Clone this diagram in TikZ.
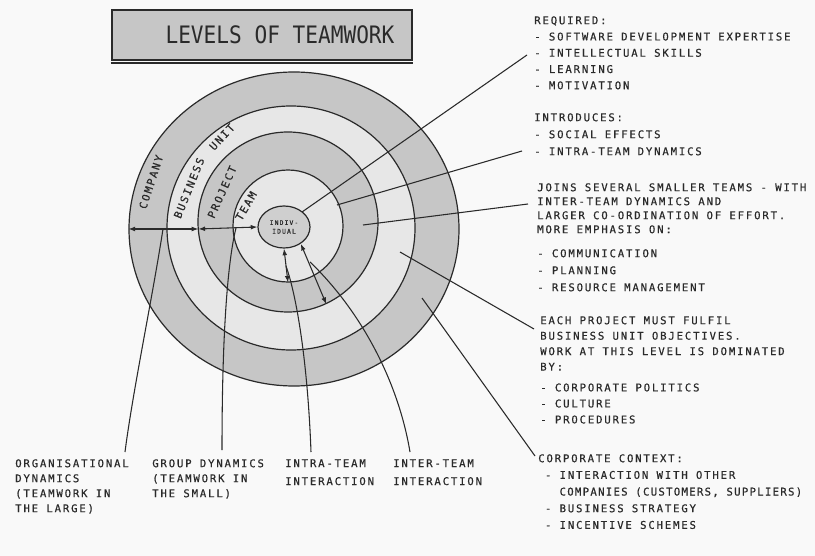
\documentclass[tikz,border=0pt]{standalone}
\usepackage{fontspec}
\usepackage{graphicx}
\usetikzlibrary{arrows.meta,shapes.geometric}
\newfontfamily\hand[LetterSpace=17,FakeBold=0.5]{DejaVu Sans Mono}
\newfontfamily\handtight[LetterSpace=12,FakeBold=0.5]{DejaVu Sans Mono}
\newfontfamily\titlehand{DejaVu Sans Mono}
\definecolor{ink}{HTML}{2A2A2A}
\definecolor{bandgray}{HTML}{C6C6C6}
\definecolor{bandlight}{HTML}{E7E7E7}
\definecolor{coregray}{HTML}{CFCFCF}
\definecolor{paper}{HTML}{F9F9F9}
\begin{document}
\begin{tikzpicture}[x=0.75pt,y=-0.75pt,
  ring/.style={ellipse,draw=ink,line width=0.9pt,inner sep=0pt},
  txt/.style={font=\hand\fontsize{8}{12.2}\selectfont,text=ink,align=left,anchor=north west,inner sep=0pt},
  lbl/.style={font=\hand\fontsize{8}{10}\selectfont,text=ink,inner sep=0pt},
  leader/.style={draw=ink,line width=0.8pt},
  dim/.style={draw=ink,line width=0.8pt,{Latex[length=5pt,width=3.6pt]}-{Latex[length=5pt,width=3.6pt]}}]
\fill[paper] (0,0) rectangle (815,556);
\useasboundingbox (0,0) rectangle (815,556);

% title
\node[draw=ink,line width=1.6pt,fill=bandgray,minimum width=225pt,minimum height=37.5pt,inner sep=0pt,
      font=\titlehand\fontsize{18}{18}\selectfont,text=ink] (title) at (262,35)
      {\hspace*{27pt}\scalebox{0.88}[1]{LEVELS OF TEAMWORK}};
\draw[ink,line width=1.2pt] ([yshift=-1.5pt]title.south west) -- ([yshift=-1.5pt]title.south east);

% rings
\node[ring,fill=bandgray,minimum width=247.5pt,minimum height=235.5pt] (company) at (294,229) {};
\node[ring,fill=bandlight,minimum width=186pt,minimum height=183pt] (bunit) at (291,228) {};
\node[ring,fill=bandgray,minimum width=135pt,minimum height=135pt] (project) at (288,222) {};
\node[ring,fill=bandlight,minimum width=82.5pt,minimum height=84pt] (team) at (288,226) {};
\node[ring,fill=coregray,minimum width=39pt,minimum height=31.5pt,align=center,
      font=\hand\fontsize{4.8}{6.5}\selectfont,text=ink] (indiv) at (284,227) {INDIV-\\IDUAL};

% ring labels
\node[lbl,rotate=72] (lcomp) at (151,182) {COMPANY};
\node[lbl,rotate=68] (lbus) at (189,188) {BUSINESS};
\node[lbl,rotate=47] (lunit) at (222,137) {UNIT};
\node[lbl,rotate=66] (lproj) at (222,192) {PROJECT};
\node[lbl,rotate=60] (lteam) at (246,206) {TEAM};

% dimension arrows
\coordinate (pW) at (198.4,229);
\draw[dim] (company.west) -- (pW);
\draw[dim] (pW) -- (indiv.west);
\draw[dim] (indiv.south) -- (team.south);
\draw[dim] (indiv.-45) -- (project.-65);

% right text blocks
\node[txt] (req) at (534,16) {REQUIRED:\\- SOFTWARE DEVELOPMENT EXPERTISE\\- INTELLECTUAL SKILLS\\- LEARNING\\- MOTIVATION};
\node[txt,font=\hand\fontsize{8}{12.75}\selectfont] (intro) at (534,113) {INTRODUCES:\\- SOCIAL EFFECTS\\- INTRA-TEAM DYNAMICS};
\node[txt,font=\hand\fontsize{8}{10.5}\selectfont] (joins) at (537,183) {JOINS SEVERAL SMALLER TEAMS - WITH\\INTER-TEAM DYNAMICS AND\\LARGER CO-ORDINATION OF EFFORT.\\MORE EMPHASIS ON:\\[7.5pt]- COMMUNICATION\\[2.25pt]- PLANNING\\[2.25pt]- RESOURCE MANAGEMENT};
\node[txt,font=\hand\fontsize{8}{11.6}\selectfont] (each) at (540,316) {EACH PROJECT MUST FULFIL\\BUSINESS UNIT OBJECTIVES.\\WORK AT THIS LEVEL IS DOMINATED\\BY:\\[4pt]- CORPORATE POLITICS\\[0.4pt]- CULTURE\\[0.4pt]- PROCEDURES};
\node[txt,font=\hand\fontsize{8}{12.5}\selectfont] (corp) at (538,454) {CORPORATE CONTEXT:\\\hspace*{5pt}- INTERACTION WITH OTHER\\\hspace*{5pt}\phantom{- }{\handtight COMPANIES (CUSTOMERS, SUPPLIERS)}\\\hspace*{5pt}- BUSINESS STRATEGY\\\hspace*{5pt}- INCENTIVE SCHEMES};

% right leaders
\coordinate (s1) at (302,212); \coordinate (e1) at (527,55);
\coordinate (s2) at (337,205); \coordinate (e2) at (522,151);
\coordinate (s3) at (363,225); \coordinate (e3) at (528,204);
\coordinate (s4) at (400,252); \coordinate (e4) at (534,329);
\coordinate (s5) at (422,298); \coordinate (e5) at (535,456);
\draw[leader] (s1) -- (e1);
\draw[leader] (s2) -- (e2);
\draw[leader] (s3) -- (e3);
\draw[leader] (s4) -- (e4);
\draw[leader] (s5) -- (e5);

% bottom labels
\node[txt,font=\hand\fontsize{8}{11.25}\selectfont] (orgdyn) at (15,459) {ORGANISATIONAL\\DYNAMICS\\(TEAMWORK IN\\THE LARGE)};
\node[txt,font=\hand\fontsize{8}{11.25}\selectfont] (grpdyn) at (152,459) {GROUP DYNAMICS\\(TEAMWORK IN\\THE SMALL)};
\node[txt,font=\hand\fontsize{8}{13.5}\selectfont] (intra) at (285,459) {INTRA-TEAM\\INTERACTION};
\node[txt,font=\hand\fontsize{8}{13.5}\selectfont] (inter) at (393,459) {INTER-TEAM\\INTERACTION};

% bottom leaders
\coordinate (a0) at (163,229); \coordinate (a1) at (125,452);
\coordinate (b0) at (236,228); \coordinate (b1) at (222,450);
\coordinate (c0) at (286,266); \coordinate (c1) at (311,452);
\coordinate (d0) at (310,262); \coordinate (d1) at (410,452);
\draw[leader] (a0) .. controls (152,300) and (133,390) .. (a1);
\draw[leader] (b0) .. controls (228,260) and (222,330) .. (b1);
\draw[leader] (c0) .. controls (298,300) and (308,370) .. (c1);
\draw[leader] (d0) .. controls (360,310) and (398,380) .. (d1);
\end{tikzpicture}
\end{document}
